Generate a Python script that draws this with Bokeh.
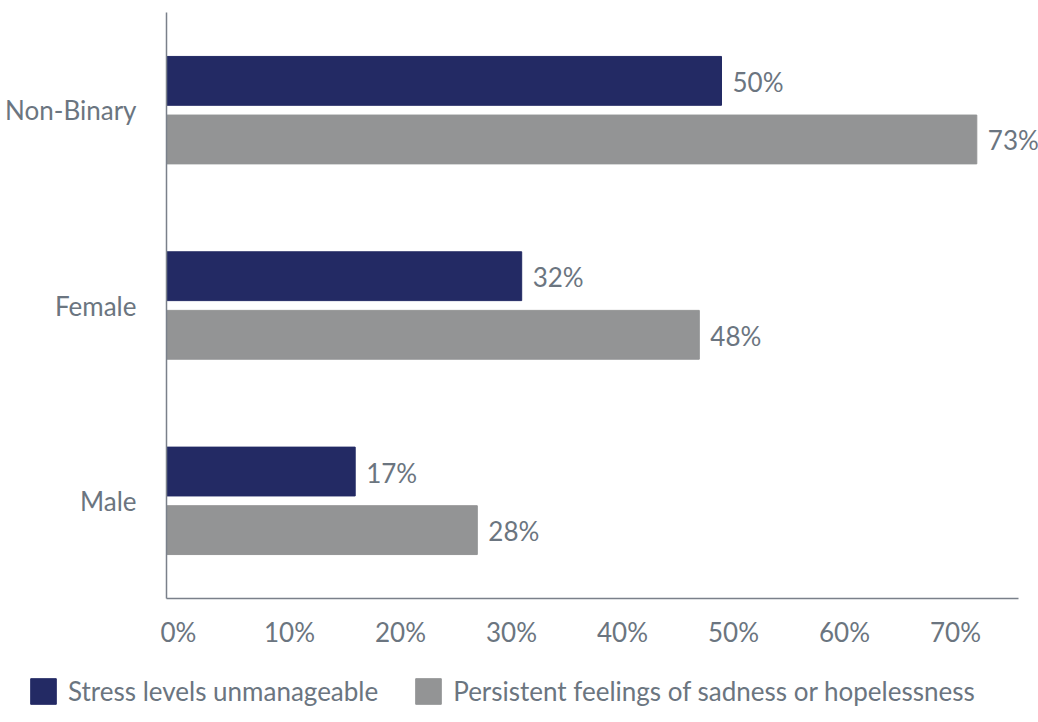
from bokeh.plotting import figure
from bokeh.layouts import column
from bokeh.models import (ColumnDataSource, FactorRange, Range1d, LinearAxis, FixedTicker,
                          LabelSet, Legend, LegendItem, CustomJSTickFormatter)
from bokeh.core.properties import value
from bokeh.transform import dodge
from bokeh.embed import file_html
from bokeh.resources import INLINE

categories = ["Male", "Female", "Non-Binary"]
stress = [17, 32, 50]
sadness = [28, 48, 73]
series_names = ["Stress levels unmanageable", "Persistent feelings of sadness or hopelessness"]
colors = ["#232a64", "#939495"]
x_ticks = [0, 10, 20, 30, 40, 50, 60, 70]

TEXT = "#6b7580"
AXIS = "#7a808a"
FONT = "Lato"
FS = "26px"

src = ColumnDataSource(dict(
    cat=categories,
    stress=stress,
    sadness=sadness,
    stress_lbl=[f"{v}%" for v in stress],
    sadness_lbl=[f"{v}%" for v in sadness],
))

PX = 11.1          # pixels per percentage point
AXIS_MAX = 852 / PX
XMAX = 872 / PX    # frame reaches the right edge so value labels are not clipped
p = figure(width=1038, height=660, y_range=FactorRange(*categories, range_padding=0),
           x_range=Range1d(0, XMAX), output_backend="svg", toolbar_location=None,
           min_border_left=166, min_border_right=0, min_border_top=12, min_border_bottom=62)
p.outline_line_color = None
p.grid.visible = False
p.xaxis.visible = False
p.frame_align = False

r1 = p.hbar(y=dodge("cat", 0.15, range=p.y_range), right="stress", left=0, height=0.25,
            source=src, color=colors[0])
r2 = p.hbar(y=dodge("cat", -0.15, range=p.y_range), right="sadness", left=0, height=0.25,
            source=src, color=colors[1])

for col, lbl, off in [("stress", "stress_lbl", 0.15), ("sadness", "sadness_lbl", -0.15)]:
    ls = LabelSet(x=col, y=dodge("cat", off, range=p.y_range), text=lbl, source=src,
                  x_offset=11, y_offset=-1, text_baseline="middle", text_align="left",
                  text_font=value(FONT), text_font_size=value(FS), text_color=TEXT)
    p.add_layout(ls)

# y axis
ya = p.yaxis[0]
ya.axis_line_color = AXIS
ya.axis_line_width = 1.5
ya.major_tick_line_color = None
ya.minor_tick_line_color = None
ya.major_label_standoff = 24
ya.major_label_text_font = FONT
ya.major_label_text_font_size = FS
ya.major_label_text_color = TEXT

# x axis on a slightly shifted range so labels sit where the reference places them
shift = 12 / PX
p.extra_x_ranges = {"lbl": Range1d(-shift, XMAX - shift)}
xa = LinearAxis(x_range_name="lbl", ticker=FixedTicker(ticks=x_ticks),
                formatter=CustomJSTickFormatter(code="return tick + '%';"),
                bounds=(-shift, AXIS_MAX - shift))
xa.axis_line_color = AXIS
xa.axis_line_width = 1.5
xa.major_tick_line_color = None
xa.minor_tick_line_color = None
xa.major_label_standoff = 11
xa.major_label_text_font = FONT
xa.major_label_text_font_size = FS
xa.major_label_text_color = TEXT
p.add_layout(xa, "below")

# legend figure underneath
lg = figure(width=1038, height=62, x_range=Range1d(0, 1), y_range=Range1d(0, 1),
            output_backend="svg", toolbar_location=None, min_border=0)
lg.outline_line_color = None
lg.axis.visible = False
lg.grid.visible = False
lg.frame_align = False
nan = float("nan")
dummy = ColumnDataSource(dict(l=[nan], r=[nan], t=[nan], b=[nan]))
g1 = lg.quad(left="l", right="r", top="t", bottom="b", source=dummy,
             fill_color=colors[0], line_color=colors[0])
g2 = lg.quad(left="l", right="r", top="t", bottom="b", source=dummy,
             fill_color=colors[1], line_color=colors[1])

legend = Legend(items=[LegendItem(label=series_names[0], renderers=[g1]),
                       LegendItem(label=series_names[1], renderers=[g2])],
                orientation="horizontal", location=(27, 15))
legend.background_fill_alpha = 0
legend.border_line_color = None
legend.padding = 0
legend.margin = 0
legend.spacing = 34
legend.glyph_width = 32
legend.glyph_height = 32
legend.label_standoff = 9
legend.label_height = 32
legend.label_text_font = FONT
legend.label_text_font_size = FS
legend.label_text_color = TEXT
legend.label_text_baseline = "middle"
lg.add_layout(legend, "center")

layout = column(p, lg, spacing=0)
open("out.html", "w").write(file_html(layout, INLINE))
